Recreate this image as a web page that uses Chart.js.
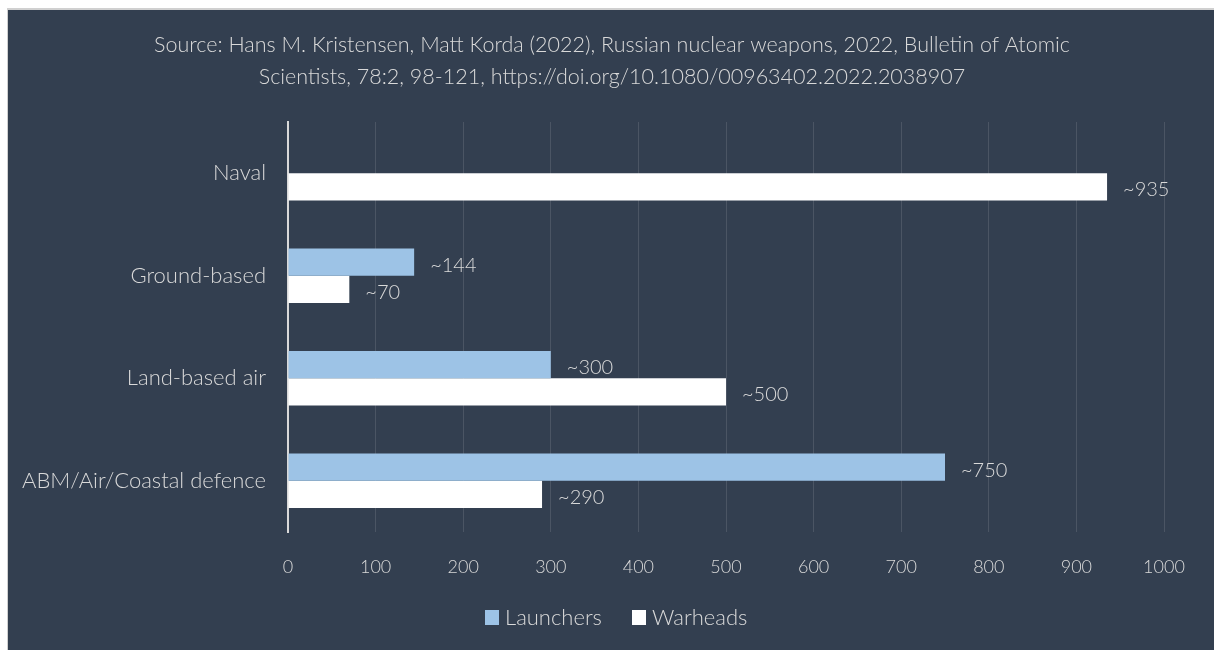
<!DOCTYPE html>
<html><head><meta charset="utf-8">
<script src="https://cdn.jsdelivr.net/npm/chart.js@4/dist/chart.umd.min.js"></script>
<style>
html,body{margin:0;padding:0;background:#fff;width:1214px;height:650px;overflow:hidden;}
#bg{position:absolute;left:7px;top:8px;width:1207px;height:642px;background:#333F50;border-left:1px solid #d0d0d0;border-top:2px solid #d0d0d0;box-sizing:border-box;}
#wrap{position:absolute;left:0;top:0;width:1214px;height:650px;}
</style></head><body>
<div id="bg"></div>
<div id="wrap"><canvas id="c" width="1214" height="650"></canvas></div>
<script>
const categories = ['Naval', 'Ground-based', 'Land-based air', 'ABM/Air/Coastal defence'];
const launchers = [null, 144, 300, 750];
const warheads = [935, 70, 500, 290];
const seriesNames = ['Launchers', 'Warheads'];
const titleLines = ['Source: Hans M. Kristensen, Matt Korda (2022), Russian nuclear weapons, 2022, Bulletin of Atomic',
  'Scientists, 78:2, 98-121, https://doi.org/10.1080/00963402.2022.2038907'];
const xTicks = [0,100,200,300,400,500,600,700,800,900,1000];

const FONT = 'Lato, "Open Sans", sans-serif';
const TXT = '#D9D9D9';
const colors = ['#9DC3E6', '#FFFFFF'];

const overlay = {
  id: 'overlay',
  afterDatasetsDraw(chart) {
    const ctx = chart.ctx;
    ctx.save();
    ctx.fillStyle = TXT;
    ctx.font = '300 20px ' + FONT;
    ctx.textBaseline = 'middle';
    ctx.textAlign = 'left';
    chart.data.datasets.forEach((ds, di) => {
      const meta = chart.getDatasetMeta(di);
      meta.data.forEach((bar, i) => {
        const v = ds.data[i];
        if (v === null || v === undefined) return;
        ctx.fillText('~' + v, bar.x + 16, bar.y + 3);
      });
    });
    // title
    ctx.textAlign = 'center';
    ctx.font = '300 21.5px ' + FONT;
    ctx.fillText(titleLines[0], 612, 45);
    ctx.fillText(titleLines[1], 612, 77);
    // legend
    ctx.textAlign = 'left';
    ctx.font = '300 22px ' + FONT;
    const items = [{x: 485, tx: 505}, {x: 632, tx: 652}];
    items.forEach((it, k) => {
      ctx.fillStyle = colors[k];
      ctx.fillRect(it.x, 610, 14, 15);
      ctx.fillStyle = TXT;
      ctx.fillText(seriesNames[k], it.tx, 618);
    });
    ctx.restore();
  }
};

new Chart(document.getElementById('c'), {
  type: 'bar',
  data: {
    labels: categories,
    datasets: [
      {label: seriesNames[0], data: launchers, backgroundColor: colors[0], categoryPercentage: 0.53, barPercentage: 1.0},
      {label: seriesNames[1], data: warheads, backgroundColor: colors[1], categoryPercentage: 0.53, barPercentage: 1.0}
    ]
  },
  options: {
    indexAxis: 'y',
    responsive: false,
    animation: false,
    layout: {padding: {top: 122, left: 8, right: 50, bottom: 0}},
    plugins: {legend: {display: false}, title: {display: false}, tooltip: {enabled: false}},
    scales: {
      x: {
        min: 0, max: 1000,
        afterBuildTicks(s) { s.ticks = xTicks.map(v => ({value: v})); },
        afterFit(s) { s.height = 118; },
        grid: {color: 'rgba(217,217,217,0.15)', lineWidth: 1, drawTicks: false},
        border: {display: false},
        ticks: {color: TXT, font: {family: FONT, size: 18, weight: '300'}, padding: 24,
          callback: (v) => String(v)}
      },
      y: {
        afterFit(s) { s.width = 280; },
        grid: {display: false, drawTicks: false},
        border: {display: true, color: '#D9D9D9', width: 2},
        ticks: {color: TXT, font: {family: FONT, size: 22, weight: '300'}, padding: 22}
      }
    }
  },
  plugins: [overlay]
});
</script>
</body></html>
